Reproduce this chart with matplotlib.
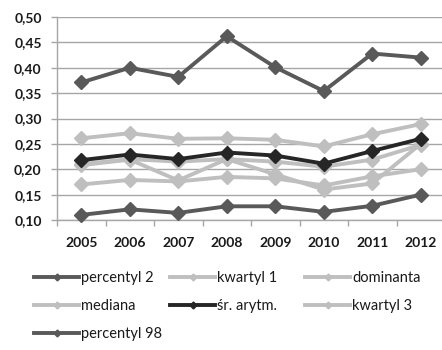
import matplotlib
matplotlib.use("Agg")
import matplotlib.pyplot as plt
from matplotlib.lines import Line2D
from matplotlib.ticker import FuncFormatter, FixedLocator

years = ["2005", "2006", "2007", "2008", "2009", "2010", "2011", "2012"]
percentyl_2 = [0.110, 0.121, 0.114, 0.127, 0.127, 0.116, 0.128, 0.150]
kwartyl_1 = [0.170, 0.179, 0.176, 0.185, 0.182, 0.168, 0.186, 0.200]
dominanta = [0.208, 0.219, 0.178, 0.220, 0.190, 0.160, 0.172, 0.250]
mediana = [0.210, 0.220, 0.215, 0.220, 0.215, 0.205, 0.219, 0.248]
sr_arytm = [0.218, 0.229, 0.220, 0.233, 0.227, 0.211, 0.236, 0.260]
kwartyl_3 = [0.261, 0.271, 0.260, 0.261, 0.258, 0.245, 0.269, 0.289]
percentyl_98 = [0.371, 0.400, 0.382, 0.462, 0.401, 0.354, 0.428, 0.420]

DARK = "#595959"
BLACK = "#262626"
LIGHT = "#bfbfbf"

series = [
    ("percentyl 2", percentyl_2, DARK),
    ("kwartyl 1", kwartyl_1, LIGHT),
    ("dominanta", dominanta, LIGHT),
    ("mediana", mediana, LIGHT),
    ("śr. arytm.", sr_arytm, BLACK),
    ("kwartyl 3", kwartyl_3, LIGHT),
    ("percentyl 98", percentyl_98, DARK),
]

plt.rcParams["font.family"] = ["Lato", "DejaVu Sans"]

fig = plt.figure(figsize=(4.42, 3.5), dpi=100)
W, H = 442, 350
left, right, top, bottom = 57, 445, 17, 220
ax = fig.add_axes([left / W, 1 - bottom / H, (right - left) / W, (bottom - top) / H])

x = list(range(len(years)))
handles = {}
for name, vals, col in series:
    ax.plot(x, vals, color=col, lw=2.8, marker="D", ms=7.5, mec=col, mfc=col,
            solid_joinstyle="round", clip_on=False, zorder=3)
    handles[name] = Line2D([], [], color=col, lw=2.8, marker="D", ms=3.5, mec=col, mfc=col)

ax.set_xlim(-0.5, 7.5)
ax.set_ylim(0.10, 0.50)
yt = [0.10, 0.15, 0.20, 0.25, 0.30, 0.35, 0.40, 0.45, 0.50]
ax.set_yticks(yt)
ax.yaxis.set_major_formatter(FuncFormatter(lambda v, p: f"{v:.2f}".replace(".", ",")))
ax.set_xticks(x)
ax.set_xticklabels(years)
ax.xaxis.set_minor_locator(FixedLocator([i - 0.5 for i in range(len(years) + 1)]))

grid_col = "#a6a6a6"
ax.grid(axis="y", color=grid_col, lw=1.0, zorder=0)
ax.set_axisbelow(True)
for s in ["top", "right"]:
    ax.spines[s].set_visible(False)
for s in ["left", "bottom"]:
    ax.spines[s].set_color(grid_col)
    ax.spines[s].set_linewidth(1.0)

ax.tick_params(axis="x", which="major", length=0, pad=12, labelsize=10)
ax.tick_params(axis="x", which="minor", length=4, color=grid_col, width=1.0, direction="out")
ax.tick_params(axis="y", length=4, color=grid_col, width=1.0, pad=7, labelsize=10)
for lab in ax.get_xticklabels() + ax.get_yticklabels():
    lab.set_fontweight("bold")
    lab.set_color("#1a1a1a")

cols = [
    (34, ["percentyl 2", "mediana", "percentyl 98"]),
    (170, ["kwartyl 1", "śr. arytm."]),
    (305, ["dominanta", "kwartyl 3"]),
]
fs = 10.5
for xpx, names in cols:
    leg = fig.legend([handles[n] for n in names], names, loc="upper left",
                     bbox_to_anchor=(xpx / W, 1 - 271 / H), frameon=False,
                     fontsize=fs, handlelength=3.1, handletextpad=0.15,
                     borderpad=0, borderaxespad=0, labelspacing=0.95)
    for t in leg.get_texts():
        t.set_color("#1a1a1a")

fig.savefig("out.png", dpi=100)
